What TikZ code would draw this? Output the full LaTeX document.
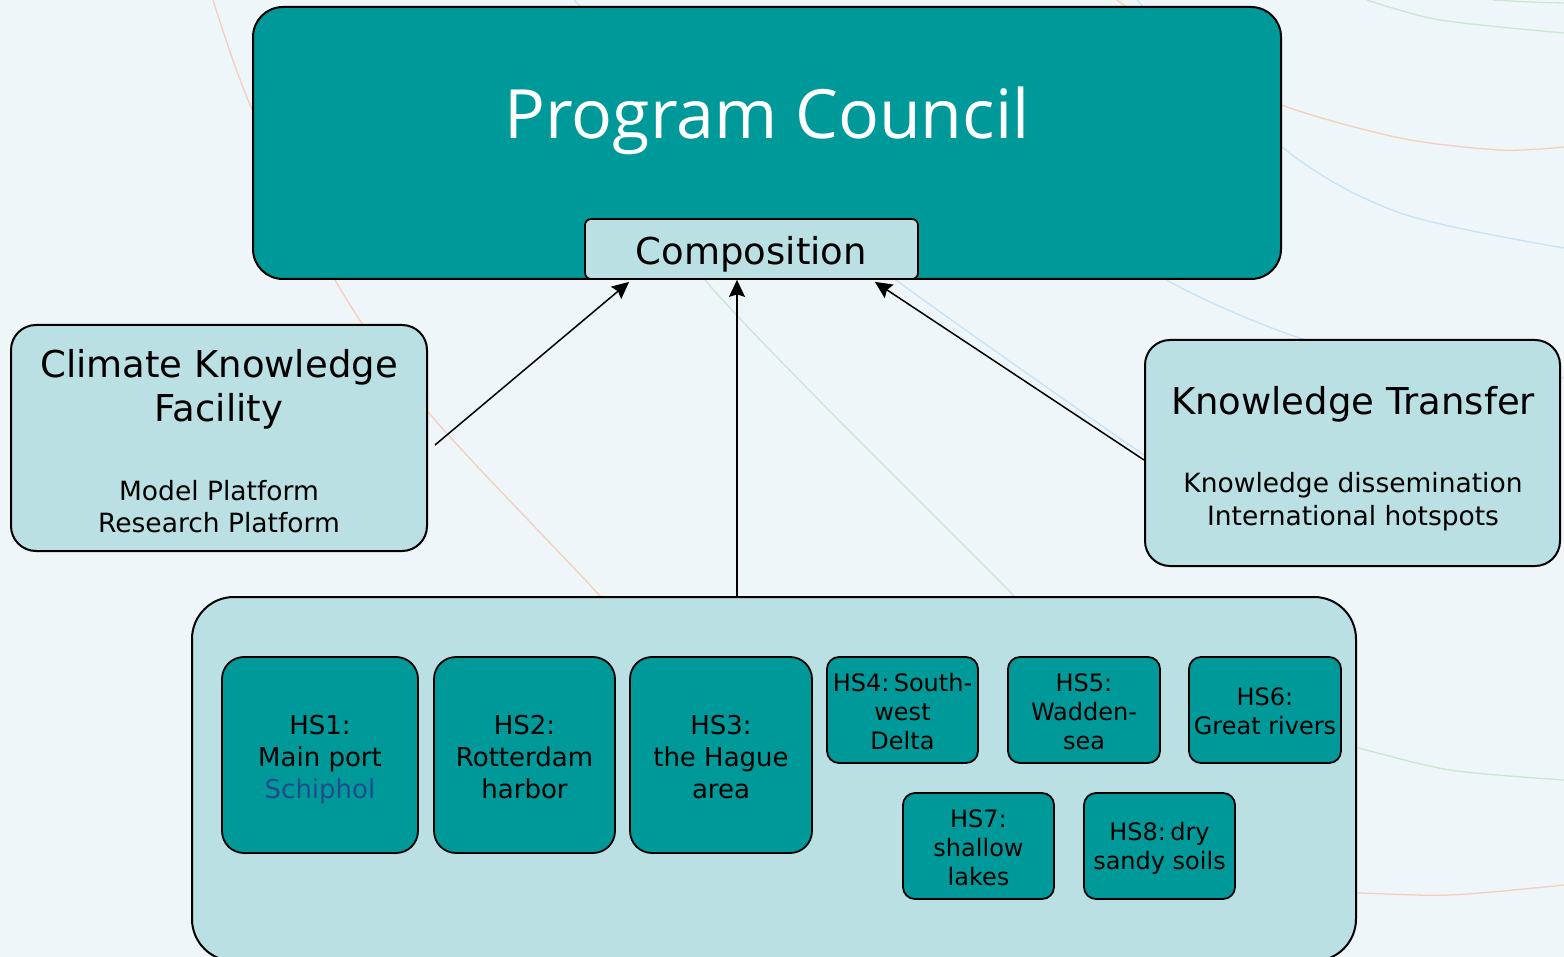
\documentclass[tikz,border=0pt]{standalone}
\usepackage{fontspec}
\setmainfont{DejaVu Sans}
\newfontfamily\titlefont{Open Sans}
\usetikzlibrary{arrows.meta}
\definecolor{bg}{RGB}{238,246,249}
\definecolor{tealbox}{RGB}{0,153,153}
\definecolor{lightbox}{RGB}{186,224,227}
\definecolor{schiphol}{RGB}{32,76,140}
\definecolor{arcorange}{RGB}{246,205,190}
\definecolor{arcgreen}{RGB}{202,230,208}
\definecolor{arcblue}{RGB}{198,226,246}
\tikzset{
  arcline/.style={line width=1.3pt},
  bigbox/.style={draw=black, line width=2pt, inner sep=0pt},
  hsbig/.style={draw=black, line width=1.8pt, fill=tealbox, rounded corners=22pt, inner sep=0pt, minimum height=196pt},
  hssmall/.style={draw=black, line width=1.8pt, fill=tealbox, rounded corners=12pt, inner sep=0pt, minimum width=151pt, minimum height=106pt},
  hsbigtext/.style={inner sep=0pt, align=center, font=\fontsize{26}{32}\selectfont},
  hssmalltext/.style={inner sep=0pt, align=center, font=\fontsize{24}{29}\selectfont},
  titletext/.style={anchor=base, inner sep=0pt, align=center, font=\fontsize{37}{45}\selectfont},
  subtext/.style={anchor=base, inner sep=0pt, align=center, font=\fontsize{26.5}{32}\selectfont},
  arr/.style={line width=1.5pt, -{Stealth[length=17pt,width=16pt,inset=2.5pt]}}
}
\begin{document}
\begin{tikzpicture}[x=1pt,y=-1pt]
\useasboundingbox[fill=bg] (0,0) rectangle (1564,957);
% decorative background arcs
\draw[arcline, arcorange] plot[smooth] coordinates {(213,0) (251,107) (335,280) (429,413) (601,597) (680,690)};
\draw[arcline, arcgreen] plot[smooth] coordinates {(640,150) (705,280) (1015,597) (1070,660)};
\draw[arcline, arcblue] plot[smooth] coordinates {(574,0) (740,160) (900,283) (1141,453) (1200,490)};
\draw[arcline, arcblue] plot[smooth] coordinates {(1100,220) (1167,280) (1300,338) (1450,370) (1564,378)};
\draw[arcline, arcorange] plot[smooth] coordinates {(1117,0) (1200,60) (1282,105) (1400,138) (1500,150) (1564,147)};
\draw[arcline, arcblue] plot[smooth] coordinates {(1137,0) (1282,147) (1400,213) (1564,248)};
\draw[arcline, arcgreen] plot[smooth] coordinates {(1367,0) (1440,20) (1564,33)};
\draw[arcline, arcgreen] plot[smooth] coordinates {(1493,0) (1530,2) (1564,3)};
\draw[arcline, arcgreen] plot[smooth] coordinates {(1300,735) (1358,748) (1450,770) (1564,780)};
\draw[arcline, arcorange] plot[smooth] coordinates {(1300,892) (1358,893) (1450,895) (1564,885)};

% main boxes
\node[bigbox, fill=tealbox, rounded corners=30pt, minimum width=1028pt, minimum height=272pt] (pc) at (767,143) {};
\node[anchor=base, inner sep=0pt, text=white, font=\titlefont\fontsize{68}{80}\selectfont] (pctext) at (767,139) {Program Council};
\node[draw=black, line width=1.8pt, fill=lightbox, rounded corners=6pt, inner sep=0pt, minimum width=333pt, minimum height=60pt] (comp) at (751.5,249) {};
\node[anchor=base, inner sep=0pt, font=\fontsize{37}{45}\selectfont] (comptext) at (751.5,265) {Composition};

\node[bigbox, fill=lightbox, rounded corners=25pt, minimum width=416pt, minimum height=226pt] (ckf) at (219,438) {};
\node[titletext] (ckft1) at (219,378) {Climate Knowledge};
\node[titletext] (ckft2) at (219,422) {Facility};
\node[subtext] (ckfs1) at (219,500) {Model Platform};
\node[subtext] (ckfs2) at (219,532) {Research Platform};

\node[bigbox, fill=lightbox, rounded corners=25pt, minimum width=415pt, minimum height=226pt] (kt) at (1352.5,453) {};
\node[titletext] (ktt) at (1353,415) {Knowledge Transfer};
\node[subtext] (kts1) at (1353,493) {Knowledge dissemination};
\node[subtext] (kts2) at (1353,525) {International hotspots};

\node[bigbox, fill=lightbox, rounded corners=42pt, minimum width=1164pt, minimum height=364pt] (bot) at (774,779) {};

\node[hsbig, minimum width=196pt] (hs1) at (320,755) {};
\node[hsbig, minimum width=181pt] (hs2) at (524.5,755) {};
\node[hsbig, minimum width=182pt] (hs3) at (721,755) {};
\node[hssmall] (hs4) at (902.5,710) {};
\node[hssmall, minimum width=152pt] (hs5) at (1084,710) {};
\node[hssmall, minimum width=152pt] (hs6) at (1265,710) {};
\node[hssmall] (hs7) at (978.5,846) {};
\node[hssmall] (hs8) at (1159.5,846) {};

\node[hsbigtext] (hs1t) at ([yshift=-5pt]hs1.center) {HS1:\\Main port\\\textcolor{schiphol}{Schiphol}};
\node[hsbigtext] (hs2t) at ([yshift=-2pt]hs2.center) {HS2:\\Rotterdam\\harbor};
\node[hsbigtext] (hs3t) at ([yshift=-2pt]hs3.center) {HS3:\\the Hague\\area};
\node[hssmalltext] (hs4t) at ([yshift=-2pt]hs4.center) {HS4:\hspace{0.18em}South-\\west\\Delta};
\node[hssmalltext] (hs5t) at ([yshift=-2pt]hs5.center) {HS5:\\Wadden-\\sea};
\node[hssmalltext] (hs6t) at ([yshift=-1pt]hs6.center) {HS6:\\Great rivers};
\node[hssmalltext] (hs7t) at ([yshift=-2pt]hs7.center) {HS7:\\shallow\\lakes};
\node[hssmalltext] (hs8t) at ([yshift=-2pt]hs8.center) {HS8:\hspace{0.18em}dry\\sandy soils};

% connectors
\draw[arr] ([shift={(7,7)}]ckf.east) -- ([shift={(45,2)}]comp.south west);
\draw[arr] ([xshift=-37pt]bot.north) -- ([xshift=-37pt]bot.north |- comp.south);
\draw[arr] ([shift={(0,7)}]kt.west) -- ([shift={(-44,2)}]comp.south east);
\end{tikzpicture}
\end{document}
